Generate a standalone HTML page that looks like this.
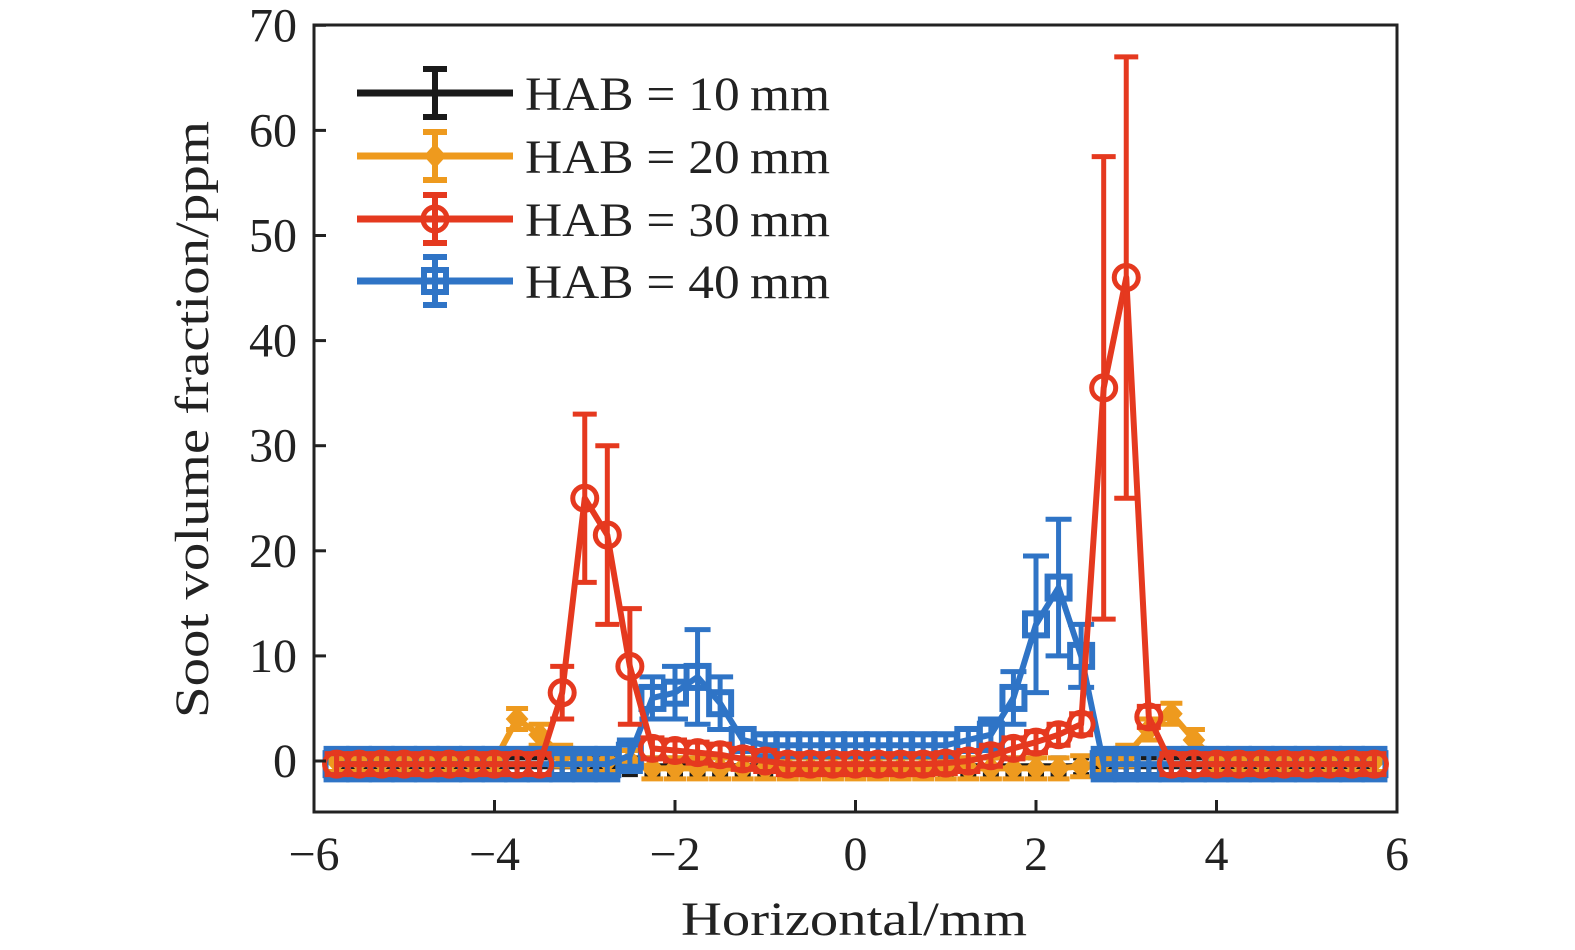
<!DOCTYPE html>
<html><head><meta charset="utf-8"><style>
html,body{margin:0;padding:0;background:#fff;overflow:hidden;width:1575px;height:950px;}
svg{display:block;}
svg text{font-family:"Liberation Serif",serif;fill:#222;}
</style></head><body>
<svg id="chart" width="1575" height="950" viewBox="0 0 1575 950" xmlns="http://www.w3.org/2000/svg">
<g id="plot"></g>
<g id="axes"></g>
<g id="legend"></g>
</svg>
<script>
const xs = [];
for (let i = 0; i < 47; i++) xs.push(-5.75 + 0.25 * i);
const blackVals = new Array(47).fill(-0.5);
const orangeVals = [0,0,0,0,0,0,0,0,4,2.5,0.5,0,0,0,-0.7,-0.7,-0.7,-0.7,-0.7,-0.7,-0.7,-0.7,-0.7,-0.7,-0.7,-0.7,-0.7,-0.7,-0.7,-0.7,-0.7,-0.7,-0.7,-0.5,0,0.5,3,4.5,2,0,0,0,0,0,0,0,0];
const redVals = [-0.3,-0.3,-0.3,-0.3,-0.3,-0.3,-0.3,-0.3,-0.3,-0.3,6.5,25,21.5,9,1.2,1,0.8,0.6,0.2,0,-0.3,-0.3,-0.3,-0.3,-0.3,-0.3,-0.3,-0.2,0,0.5,1.2,1.8,2.5,3.5,35.5,46,4.2,-0.3,-0.3,-0.3,-0.3,-0.3,-0.3,-0.3,-0.3,-0.3,-0.3];
const redErr = [1,1,1,1,1,1,1,1,1,1,2.5,8,8.5,5.5,1,1,1,1,1,1,1,1,1,1,1,1,1,1,1,1,1,1,1,1,22,21,1,1,1,1,1,1,1,1,1,1,1];
const blueVals = [-0.3,-0.3,-0.3,-0.3,-0.3,-0.3,-0.3,-0.3,-0.3,-0.3,-0.3,-0.3,-0.3,0.5,6,6.5,8,5.5,2,1.5,1.5,1.5,1.5,1.5,1.5,1.5,1.5,1.5,2,2.5,6,13,16.5,10,-0.3,-0.3,-0.3,-0.3,-0.3,-0.3,-0.3,-0.3,-0.3,-0.3,-0.3,-0.3,-0.3];
const blueErr = [1.5,1.5,1.5,1.5,1.5,1.5,1.5,1.5,1.5,1.5,1.5,1.5,1.5,1.5,2,2.5,4.5,2.5,1,1,1,1,1,1,1,1,1,1,1,1.5,2.5,6.5,6.5,3,1.5,1.5,1.5,1.5,1.5,1.5,1.5,1.5,1.5,1.5,1.5,1.5,1.5];
const xTicks = [-6,-4,-2,0,2,4,6];
const xTickLabels = ["\u22126","\u22124","\u22122","0","2","4","6"];
const yTicks = [0,10,20,30,40,50,60,70];
const legendLabels = ["HAB = 10\u2009mm","HAB = 20\u2009mm","HAB = 30\u2009mm","HAB = 40\u2009mm"];

const L=314,R=1397,T=25,B=812;
const X = v => L + (v + 6) * (R - L) / 12;
const Y = v => 761 - v * 10.51;
const NS="http://www.w3.org/2000/svg";
function mk(tag, attrs, parent){const e=document.createElementNS(NS,tag);for(const k in attrs)e.setAttribute(k,attrs[k]);parent.appendChild(e);return e;}
const plot=document.getElementById('plot'), axes=document.getElementById('axes'), legend=document.getElementById('legend');

function marker(g,type,cx,cy,color){
  let m;
  if(type==='circle') m=mk('circle',{cx,cy,r:12,fill:'none',stroke:color,'stroke-width':5},g);
  else if(type==='square') m=mk('rect',{x:cx-11,y:cy-11,width:22,height:22,fill:'none',stroke:color,'stroke-width':6},g);
  else if(type==='diamond') m=mk('polygon',{points:`${cx},${cy-11} ${cx+10},${cy} ${cx},${cy+11} ${cx-10},${cy}`,fill:color,stroke:color,'stroke-width':2},g);
  else m=mk('rect',{x:cx-3,y:cy-3,width:6,height:6,fill:color},g);
  
  
}
function series(name,vals,errs,color,type,capW){
  const g=mk('g',{},plot);
  
  
  const pts=xs.map((x,i)=>X(x)+','+Y(vals[i])).join(' ');
  const ln=mk('polyline',{points:pts,fill:'none',stroke:color,'stroke-width':6,'stroke-linejoin':'round'},g);
  
  
  xs.forEach((x,i)=>{
    const cx=X(x), e=errs[i];
    const y1=Y(vals[i]+e), y2=Y(vals[i]-e);
    const eb=mk('path',{d:`M${cx},${y1}V${y2}M${cx-capW},${y1}H${cx+capW}M${cx-capW},${y2}H${cx+capW}`,stroke:color,'stroke-width':5,fill:'none'},g);
    
    
    marker(g,type,cx,Y(vals[i]),color);
  });
}
series('series-hab-10',blackVals,new Array(47).fill(0.8),'#1a1a1a','dot',8);
series('series-hab-20',orangeVals,new Array(47).fill(1),'#ee9a1e','diamond',11);
series('series-hab-40',blueVals,blueErr,'#2f74c6','square',13);
series('series-hab-30',redVals,redErr,'#e5391f','circle',12);

const box=mk('rect',{x:L,y:T,width:R-L,height:B-T,fill:'none',stroke:'#222','stroke-width':3},axes);


xTicks.forEach((t,i)=>{
  const tk=mk('line',{x1:X(t),x2:X(t),y1:B,y2:B-12,stroke:'#222','stroke-width':3},axes);
  
  
  const tx=mk('text',{x:X(t),y:870,'text-anchor':'middle','font-size':48},axes);
  tx.textContent=xTickLabels[i];
  
  
});
yTicks.forEach(t=>{
  const tk=mk('line',{x1:L,x2:L+12,y1:Y(t),y2:Y(t),stroke:'#222','stroke-width':3},axes);
  
  
  const tx=mk('text',{x:297,y:Y(t)+16,'text-anchor':'end','font-size':48},axes);
  tx.textContent=String(t);
  
  
});
const xt=mk('text',{x:681,y:935,'font-size':48,textLength:346,lengthAdjust:'spacingAndGlyphs'},axes);
xt.textContent='Horizontal/mm';


const yt=mk('text',{x:0,y:0,'font-size':48,textLength:597,lengthAdjust:'spacingAndGlyphs',transform:'translate(208,718) rotate(-90)'},axes);
yt.textContent='Soot volume fraction/ppm';



const lc=['#1a1a1a','#ee9a1e','#e5391f','#2f74c6'];
const lt=['dot','diamond','circle','square'];
const ly=[93,156,219,281];
legendLabels.forEach((lab,i)=>{
  const g=mk('g',{},legend);
  
  
  mk('line',{x1:357,x2:513,y1:ly[i],y2:ly[i],stroke:lc[i],'stroke-width':7},g);
  mk('path',{d:`M435,${ly[i]-24}V${ly[i]+24}M423,${ly[i]-24}H447M423,${ly[i]+24}H447`,stroke:lc[i],'stroke-width':6,fill:'none'},g);
  marker(g,lt[i],435,ly[i],lc[i]);
  const tx=mk('text',{x:525,y:ly[i]+17,'font-size':48,textLength:305,lengthAdjust:'spacingAndGlyphs'},g);
  tx.textContent=lab;
  
  
});
</script>
</body></html>
